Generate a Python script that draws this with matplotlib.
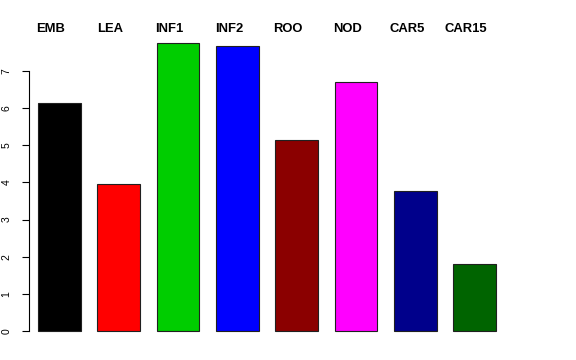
import matplotlib
matplotlib.use("Agg")
import matplotlib.pyplot as plt

categories = ["EMB", "LEA", "INF1", "INF2", "ROO", "NOD", "CAR5", "CAR15"]
values = [6.14, 3.97, 7.75, 7.68, 5.13, 6.71, 3.77, 1.80]
colors = ["#000000", "#FF0000", "#00CD00", "#0000FF", "#8B0000", "#FF00FF", "#00008B", "#006400"]
yticks = [0, 1, 2, 3, 4, 5, 6, 7]

plt.rcParams['font.family'] = ['Liberation Sans', 'DejaVu Sans']

W, H = 576, 360
fig = plt.figure(figsize=(W / 100, H / 100), dpi=100)
left_px, right_px = 29, 547
top_px, bottom_px = 31.6, 342.5
ax = fig.add_axes([left_px / W, 1 - bottom_px / H, (right_px - left_px) / W, (bottom_px - top_px) / H])

x = list(range(len(categories)))
ax.bar(x, values, width=0.72, color=colors, edgecolor="#202020", linewidth=0.8)

ax.set_xlim(-0.512, 8.223)
ax.set_ylim(-0.31, 8.06)

for s in ["top", "right", "bottom"]:
    ax.spines[s].set_visible(False)
ax.spines["left"].set_bounds(0, 7)
ax.spines["left"].set_linewidth(0.8)
ax.set_xticks([])
ax.set_yticks(yticks)
ax.set_yticklabels([str(t) for t in yticks], rotation=90, va="center", fontsize=7.5)
ax.tick_params(axis="y", length=5.2, width=0.8, pad=7.5)

for i, c in enumerate(categories):
    ax.text(i - 0.14, 8.12, c, ha="center", va="center", fontsize=9.4,
            fontweight="bold", clip_on=False)

fig.savefig("out.png", dpi=100)
